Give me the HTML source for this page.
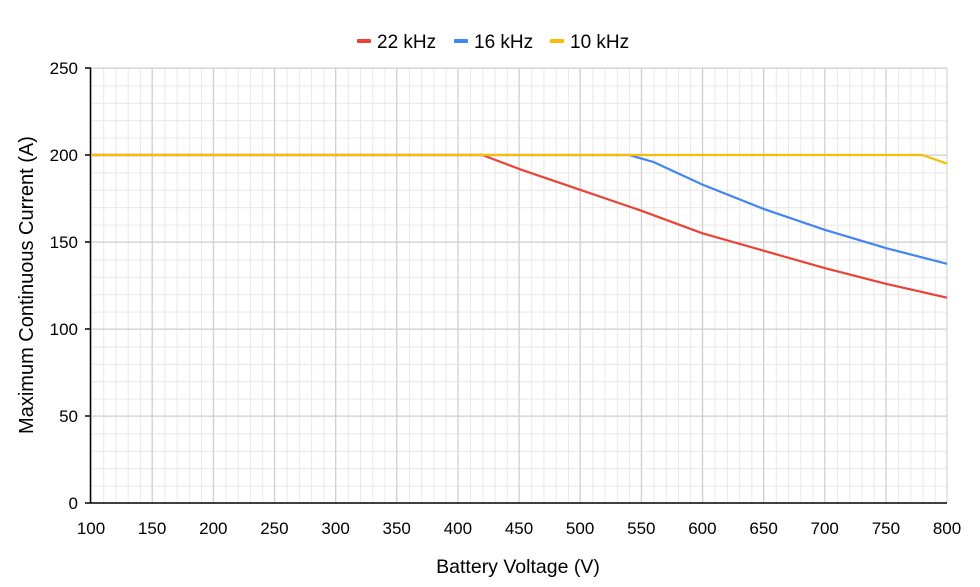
<!DOCTYPE html>
<html><head><style>body{margin:0;background:#fff}svg{display:block;font-family:"Liberation Sans",Arial,sans-serif}</style></head>
<body>
<svg width="980" height="587" viewBox="0 0 980 587" xmlns="http://www.w3.org/2000/svg">
<defs>
<pattern id="mg" patternUnits="userSpaceOnUse" x="91" y="68" width="12.2286" height="17.4">
<path d="M0.5 0V17.4M0 0.5H12.2286" stroke="#e8e8e8" stroke-width="1" fill="none"/>
</pattern>
</defs>
<rect x="91" y="68" width="856" height="435" fill="url(#mg)"/>
<g stroke="#cccccc" stroke-width="1">
<line x1="152.1" y1="68" x2="152.1" y2="503"/><line x1="213.3" y1="68" x2="213.3" y2="503"/>
<line x1="274.4" y1="68" x2="274.4" y2="503"/><line x1="335.6" y1="68" x2="335.6" y2="503"/>
<line x1="396.7" y1="68" x2="396.7" y2="503"/><line x1="457.9" y1="68" x2="457.9" y2="503"/>
<line x1="519" y1="68" x2="519" y2="503"/><line x1="580.1" y1="68" x2="580.1" y2="503"/>
<line x1="641.3" y1="68" x2="641.3" y2="503"/><line x1="702.4" y1="68" x2="702.4" y2="503"/>
<line x1="763.6" y1="68" x2="763.6" y2="503"/><line x1="824.7" y1="68" x2="824.7" y2="503"/>
<line x1="885.9" y1="68" x2="885.9" y2="503"/><line x1="947" y1="68" x2="947" y2="503"/>
<line x1="91" y1="68" x2="947" y2="68"/><line x1="91" y1="155" x2="947" y2="155"/>
<line x1="91" y1="242" x2="947" y2="242"/><line x1="91" y1="329" x2="947" y2="329"/>
<line x1="91" y1="416" x2="947" y2="416"/>
</g>
<g stroke="#000" stroke-width="1.5">
<line x1="90.5" y1="68" x2="90.5" y2="503"/><line x1="85" y1="503" x2="947" y2="503"/>
<line x1="85" y1="68" x2="91" y2="68"/><line x1="85" y1="155" x2="91" y2="155"/>
<line x1="85" y1="242" x2="91" y2="242"/><line x1="85" y1="329" x2="91" y2="329"/>
<line x1="85" y1="416" x2="91" y2="416"/>
</g>
<g fill="none" stroke-width="2.2" stroke-linejoin="round">
<polyline stroke="#ea4335" points="91,155 482.3,155 519,168.9 580.2,189.8 641.3,210.7 702.5,233.3 763.6,250.7 824.7,268.1 885.9,283.8 947,297.7"/>
<polyline stroke="#4285f4" points="91,155 629.1,155 653.5,162 702.5,184.6 763.6,208.9 824.7,229.8 885.9,248.1 947,263.8"/>
<polyline stroke="#fbbc04" points="91,155 922.5,155 947,163.7"/>
</g>
<g font-size="17" fill="#000" text-anchor="end">
<text x="78" y="74">250</text><text x="78" y="161">200</text><text x="78" y="248">150</text>
<text x="78" y="335">100</text><text x="78" y="422">50</text><text x="78" y="509">0</text>
</g>
<g font-size="17" fill="#000" text-anchor="middle">
<text x="91" y="534">100</text><text x="152.1" y="534">150</text><text x="213.3" y="534">200</text>
<text x="274.4" y="534">250</text><text x="335.6" y="534">300</text><text x="396.7" y="534">350</text>
<text x="457.9" y="534">400</text><text x="519" y="534">450</text><text x="580.1" y="534">500</text>
<text x="641.3" y="534">550</text><text x="702.4" y="534">600</text><text x="763.6" y="534">650</text>
<text x="824.7" y="534">700</text><text x="885.9" y="534">750</text><text x="947" y="534">800</text>
<text x="518" y="573" font-size="19.5">Battery Voltage (V)</text>
<text transform="translate(33,285) rotate(-90)" font-size="20">Maximum Continuous Current (A)</text>
</g>
<g font-size="19" fill="#000">
<rect x="357" y="39" width="14" height="4" rx="1" fill="#ea4335"/><text x="377" y="48">22 kHz</text>
<rect x="454" y="39" width="14" height="4" rx="1" fill="#4285f4"/><text x="474" y="48">16 kHz</text>
<rect x="550" y="39" width="14" height="4" rx="1" fill="#fbbc04"/><text x="570" y="48">10 kHz</text>
</g>
</svg>
</body></html>
